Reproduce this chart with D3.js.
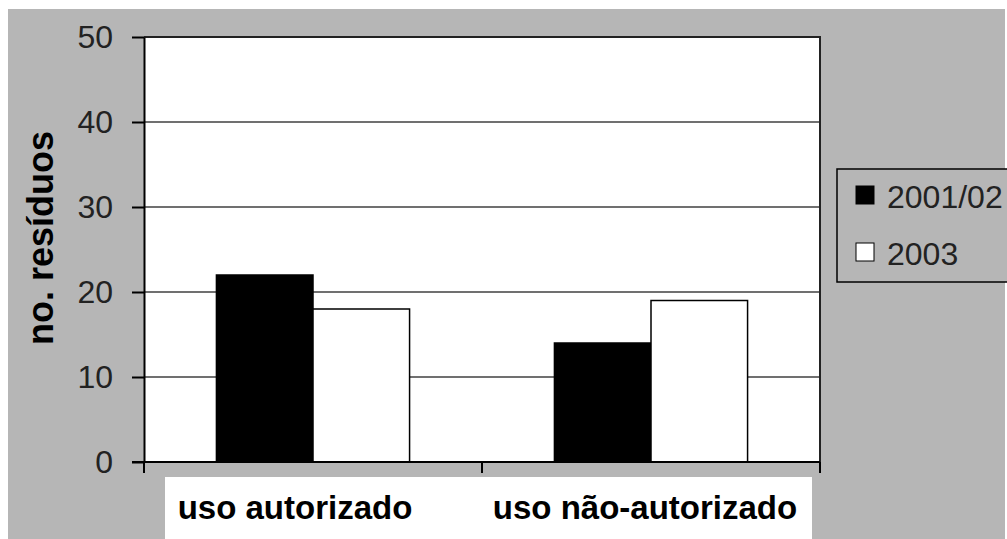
<!DOCTYPE html>
<html>
<head>
<meta charset="utf-8">
<script src="https://cdn.jsdelivr.net/npm/d3@7"></script>
<style>
  body { margin: 0; background: #fff; }
  text { font-family: "Liberation Sans", Arial, sans-serif; }
</style>
</head>
<body>
<div id="chart"></div>
<script>
// data
const categories = ["uso autorizado", "uso não-autorizado"];
const seriesNames = ["2001/02", "2003"];
const values2001 = [22, 14];
const values2003 = [18, 19];
const yTicks = [0, 10, 20, 30, 40, 50];
const seriesColors = ["#000000", "#ffffff"];

const W = 1007, H = 539;
const margin = {top: 37, right: 187, bottom: 77, left: 144};
const plotW = W - margin.left - margin.right;
const plotH = H - margin.top - margin.bottom;

const svg = d3.select("#chart").append("svg")
    .attr("width", W)
    .attr("height", H);

// gray chart area
svg.append("rect")
    .attr("x", 8).attr("y", 9)
    .attr("width", 997).attr("height", H - 9)
    .attr("fill", "#b6b6b6");

const g = svg.append("g")
    .attr("transform", "translate(" + margin.left + "," + margin.top + ")");

// excel-style gap width 150%
const x0 = d3.scaleBand().domain(categories).range([0, plotW]).paddingInner(0).paddingOuter(0);
const x1 = d3.scaleBand().domain(seriesNames).range([0, x0.bandwidth()]).paddingInner(0).paddingOuter(0.75);
const y = d3.scaleLinear().domain([0, 50]).range([plotH, 0]);

// plot background
g.append("rect")
    .attr("width", plotW).attr("height", plotH)
    .attr("fill", "#ffffff");

// gridlines
g.selectAll(".grid").data(yTicks.filter(d => d > 0 && d < 50)).join("line")
    .attr("class", "grid")
    .attr("x1", 0).attr("x2", plotW)
    .attr("y1", d => y(d)).attr("y2", d => y(d))
    .attr("stroke", "#707070").attr("stroke-width", 2);

// bars
const rows = categories.map((c, i) => ({cat: c, vals: [values2001[i], values2003[i]]}));
const groups = g.selectAll(".grp").data(rows).join("g")
    .attr("transform", d => "translate(" + x0(d.cat) + ",0)");
groups.selectAll("rect").data(d => d.vals.map((v, j) => ({name: seriesNames[j], v: v, j: j}))).join("rect")
    .attr("x", d => x1(d.name))
    .attr("width", x1.bandwidth())
    .attr("y", d => y(d.v))
    .attr("height", d => plotH - y(d.v))
    .attr("fill", d => seriesColors[d.j])
    .attr("stroke", "#000").attr("stroke-width", 1.5);

// plot border (top and right)
g.append("path")
    .attr("d", "M0,0H" + plotW + "V" + plotH)
    .attr("fill", "none").attr("stroke", "#222").attr("stroke-width", 2);

// y axis
const yAxis = g.append("g")
    .call(d3.axisLeft(y).tickValues(yTicks).tickSize(12).tickPadding(19).tickSizeOuter(0));
yAxis.select(".domain").attr("stroke", "#000").attr("stroke-width", 2);
yAxis.selectAll(".tick line").attr("stroke", "#000").attr("stroke-width", 2);
yAxis.selectAll(".tick text")
    .attr("font-size", 32).attr("fill", "#222")
    .style("font-family", "'Liberation Sans', Arial, sans-serif");

// x axis line and category ticks
const xAxis = g.append("g")
    .attr("transform", "translate(0," + plotH + ")");
xAxis.append("line")
    .attr("x1", -12).attr("x2", plotW)
    .attr("stroke", "#000").attr("stroke-width", 2);
const tickXs = categories.map(c => x0(c)).concat([plotW]);
xAxis.selectAll(".xt").data(tickXs).join("line")
    .attr("x1", d => d).attr("x2", d => d)
    .attr("y1", 0).attr("y2", 11)
    .attr("stroke", "#000").attr("stroke-width", 2);

// category label box
svg.append("rect")
    .attr("x", 165).attr("y", 477)
    .attr("width", 647).attr("height", H - 477)
    .attr("fill", "#ffffff");
svg.selectAll(".cat").data(categories).join("text")
    .attr("x", (d, i) => margin.left + x0(d) + x0.bandwidth() / 2 - (i === 0 ? 18 : 6))
    .attr("y", 519)
    .attr("text-anchor", "middle")
    .attr("font-size", 33).attr("font-weight", "bold")
    .attr("fill", "#000")
    .text(d => d);

// y title
svg.append("text")
    .attr("transform", "translate(53,238) rotate(-90)")
    .attr("text-anchor", "middle")
    .attr("font-size", 36).attr("font-weight", "bold")
    .attr("fill", "#000")
    .text("no. resíduos");

// legend
const leg = svg.append("g").attr("transform", "translate(837,169)");
leg.append("rect")
    .attr("width", 190).attr("height", 113)
    .attr("fill", "#b6b6b6").attr("stroke", "#000").attr("stroke-width", 1.5);
const items = leg.selectAll(".li").data(seriesNames).join("g")
    .attr("transform", (d, i) => "translate(0," + (i * 57) + ")");
items.append("rect")
    .attr("x", 19).attr("y", 17)
    .attr("width", 18).attr("height", 18)
    .attr("fill", (d, i) => seriesColors[i])
    .attr("stroke", "#000").attr("stroke-width", 1);
items.append("text")
    .attr("x", 50).attr("y", 39)
    .attr("font-size", 32).attr("fill", "#222")
    .text(d => d);
</script>
</body>
</html>
